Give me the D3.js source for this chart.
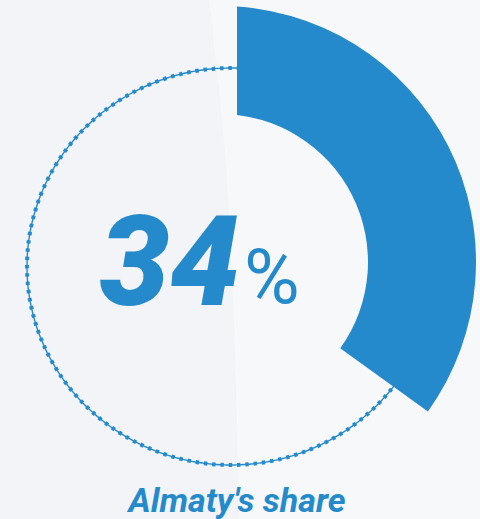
<!DOCTYPE html>
<html>
<head>
<meta charset="utf-8">
<script src="https://cdn.jsdelivr.net/npm/d3@7"></script>
<style>
  html, body { margin: 0; padding: 0; background: #f7f8fa; }
  svg { display: block; }
</style>
</head>
<body>
<div id="chart"></div>
<script>
// Share of the total held by Almaty, in percent
const shareLabel = ["Almaty's share"];
const shareValue = [34];
const totalValue = [100];

const W = 480, H = 519;
const color = "#258acb";

const svg = d3.select("#chart").append("svg")
  .attr("width", W).attr("height", H);

// Two-tone backdrop: a lighter right panel and a soft grey left panel
svg.append("rect").attr("width", W).attr("height", H).attr("fill", "#f7f8fa");
const edge = d3.line().curve(d3.curveMonotoneY);
const edgePts = [[209, 0], [223, 130], [233, 300], [239, H]];
svg.append("path")
  .attr("d", edge(edgePts) + `L0,${H}L0,0Z`)
  .attr("fill", "#f2f4f7");

// Ring geometry
const cx = 220, cy = 262;
const outerR = 256, innerR = 148;

// Percent -> angle (clockwise from 12 o'clock, with a small rotation)
const rot = 3.3 * Math.PI / 180;
const angle = d3.scaleLinear().domain([0, totalValue[0]]).range([rot, rot + 2 * Math.PI]);

const g = svg.append("g");

// Dashed track for the remaining share
const track = { x: 231, y: 266.5, rx: 204, ry: 198.5 };
const t0 = angle(shareValue[0]), t1 = angle(totalValue[0]);
const steps = d3.range(0, 241).map(i => t0 + (t1 - t0) * i / 240);
const trackLine = d3.line()
  .x(t => track.x + track.rx * Math.sin(t))
  .y(t => track.y - track.ry * Math.cos(t));

g.append("path")
  .attr("d", trackLine(steps))
  .attr("fill", "none")
  .attr("stroke", color)
  .attr("stroke-width", 1.4);
g.append("path")
  .attr("d", trackLine(steps))
  .attr("fill", "none")
  .attr("stroke", color)
  .attr("stroke-width", 4)
  .attr("stroke-dasharray", "3.4,4.9");

// Filled share arc, its leading edge trimmed to a vertical cut
const defs = svg.append("defs");
defs.append("clipPath").attr("id", "lead-cut")
  .append("rect").attr("x", cx + 17).attr("y", 0).attr("width", W).attr("height", H);

const arc = d3.arc()
  .innerRadius(innerR)
  .outerRadius(outerR);

g.append("g")
  .attr("clip-path", "url(#lead-cut)")
  .append("path")
  .datum({ startAngle: angle(0) - 0.05, endAngle: angle(shareValue[0]) })
  .attr("transform", `translate(${cx},${cy})`)
  .attr("d", arc)
  .attr("fill", color);

// Central value
svg.append("text")
  .attr("x", 240)
  .attr("y", 305)
  .attr("text-anchor", "end")
  .attr("fill", color)
  .attr("font-family", "Roboto, 'Open Sans', sans-serif")
  .attr("font-weight", 900)
  .attr("font-style", "italic")
  .attr("font-size", 125)
  .text(shareValue[0]);

svg.append("text")
  .attr("x", 244)
  .attr("y", 303)
  .attr("fill", color)
  .attr("font-family", "Roboto, 'Open Sans', sans-serif")
  .attr("font-weight", 400)
  .attr("font-size", 76)
  .text("%");

// Caption
svg.append("text")
  .attr("x", 237)
  .attr("y", 512)
  .attr("text-anchor", "middle")
  .attr("fill", color)
  .attr("font-family", "Roboto, 'Open Sans', sans-serif")
  .attr("font-weight", 700)
  .attr("font-style", "italic")
  .attr("font-size", 34)
  .text(shareLabel[0]);
</script>
</body>
</html>
